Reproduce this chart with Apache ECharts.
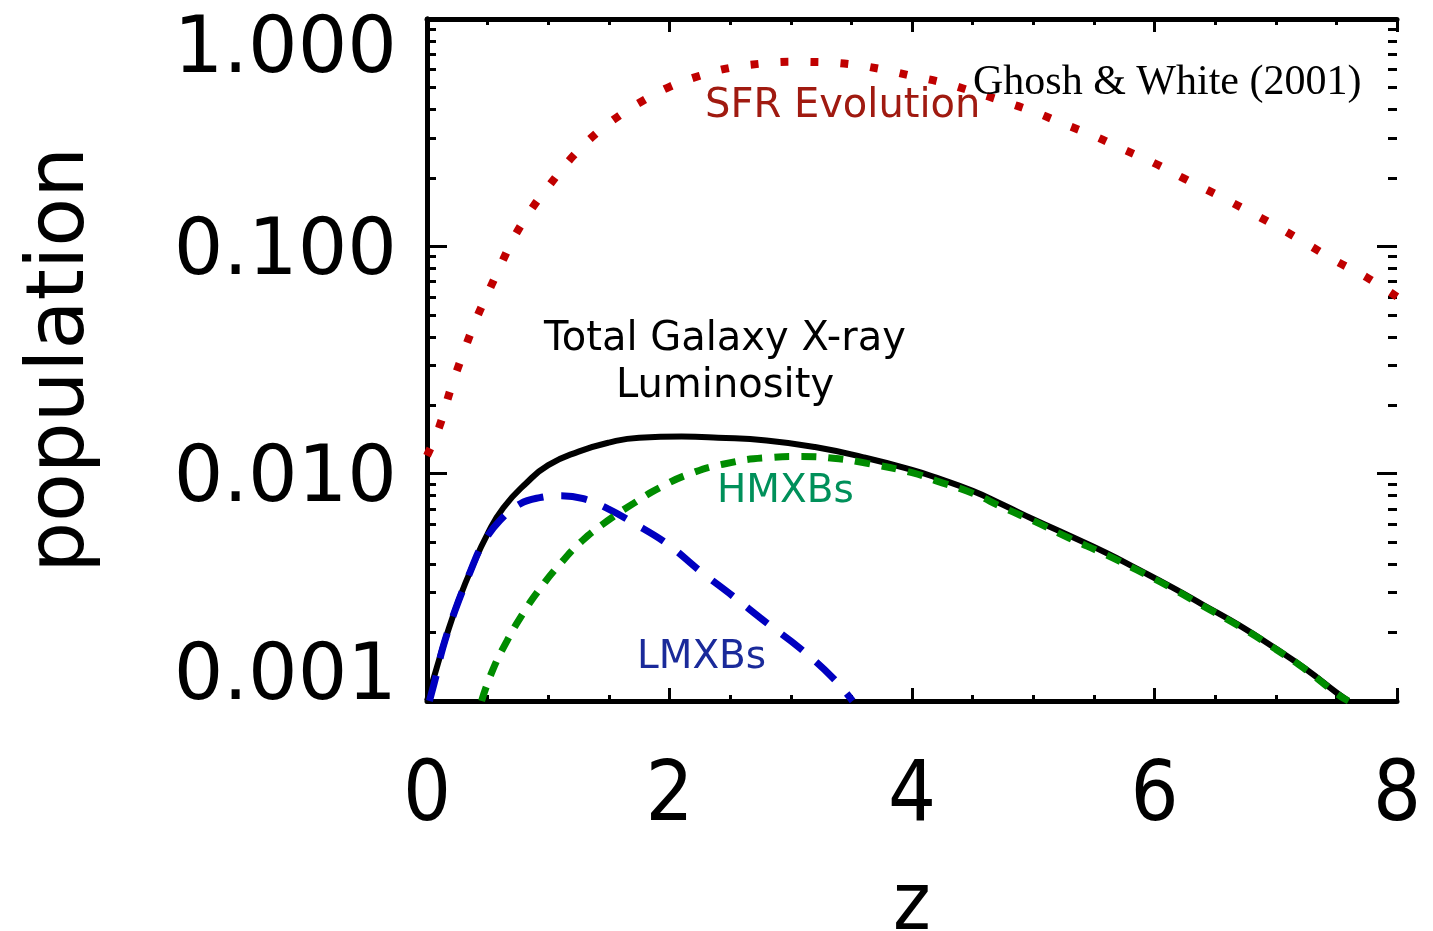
<!DOCTYPE html>
<html>
<head>
<meta charset="utf-8">
<script src="https://cdn.jsdelivr.net/npm/echarts@6/dist/echarts.min.js"></script>
<style>
html,body{margin:0;padding:0;background:#fff;}
#chart{width:1433px;height:931px;}
</style>
</head>
<body>
<div id="chart"></div>
<script>
// ---- data (z, population) ----
const sfr = [[0,0.012],[0.1,0.016],[0.2,0.024],[0.3,0.034],[0.4,0.047],[0.5,0.062],[0.6,0.081],[0.7,0.105],[0.8,0.13],[0.9,0.156],[1.0,0.183],[1.2,0.248],[1.4,0.315],[1.6,0.38],[1.8,0.443],[2.0,0.503],[2.25,0.563],[2.5,0.61],[2.75,0.636],[3.0,0.648],[3.25,0.646],[3.5,0.632],[3.75,0.601],[4.0,0.562],[4.25,0.526],[4.5,0.48],[4.75,0.435],[5.0,0.392],[5.25,0.346],[5.5,0.306],[5.75,0.266],[6.0,0.232],[6.25,0.198],[6.5,0.17],[6.75,0.145],[7.0,0.123],[7.25,0.103],[7.5,0.086],[7.75,0.073],[8.0,0.06]];
const total = [[0.0,0.001],[0.08,0.0014],[0.165,0.00197],[0.26,0.00276],[0.37,0.00386],[0.5,0.00544],[0.63,0.00708],[0.82,0.0091],[1.0,0.0109],[1.25,0.0125],[1.5,0.0137],[1.75,0.0144],[2.1,0.01456],[2.4,0.0144],[2.8,0.014],[3.2,0.0131],[3.6,0.0118],[4.0,0.0104],[4.2,0.0096],[4.5,0.0084],[4.75,0.0073],[5.0,0.0063],[5.3,0.00533],[5.6,0.00449],[5.85,0.00383],[6.15,0.00315],[6.4,0.00265],[6.7,0.00215],[7.0,0.0017],[7.25,0.00138],[7.5,0.00109],[7.6,0.001]];
const hmxb = [[0.45,0.001],[0.54,0.00136],[0.66,0.00184],[0.79,0.00242],[0.93,0.00311],[1.1,0.00402],[1.28,0.00507],[1.49,0.00621],[1.7,0.00738],[1.92,0.00868],[2.17,0.01],[2.44,0.011],[2.8,0.01175],[3.08,0.0119],[3.35,0.0117],[3.63,0.0111],[4.0,0.0101],[4.2,0.0093],[4.5,0.0082],[4.75,0.0071],[5.0,0.0062],[5.3,0.0052],[5.6,0.0044],[5.85,0.00378],[6.15,0.00312],[6.4,0.00262],[6.7,0.00213],[7.0,0.00169],[7.25,0.00137],[7.5,0.00108],[7.6,0.001]];
const lmxb = [[0.02,0.001],[0.07,0.00126],[0.13,0.00171],[0.23,0.00249],[0.36,0.00374],[0.46,0.00492],[0.6,0.00621],[0.77,0.00738],[0.93,0.00784],[1.1,0.008],[1.29,0.00776],[1.49,0.00702],[1.7,0.00608],[1.98,0.00492],[2.25,0.00374],[2.52,0.0029],[2.8,0.00221],[3.08,0.0017],[3.35,0.00126],[3.51,0.001]];
const yMajorTicks = [0.001, 0.01, 0.1, 1];
const yMinorTicks = [0.002,0.003,0.004,0.005,0.006,0.007,0.008,0.009,0.02,0.03,0.04,0.05,0.06,0.07,0.08,0.09,0.2,0.3,0.4,0.5,0.6,0.7,0.8,0.9];
const xTicks = [0, 2, 4, 6, 8];

const chart = echarts.init(document.getElementById('chart'), null, {renderer:'canvas'});
const axLine = {show:true, lineStyle:{color:'#000', width:5}};
const narrow = '"Liberation Sans Narrow","DejaVu Sans Condensed","Liberation Sans",sans-serif';
const yFont = {fontSize:78, fontFamily:'"DejaVu Sans",sans-serif', color:'#000'};
const yBase = {type:'log', logBase:10, min:0.001, max:1, splitLine:{show:false}};
function tickAxis(pos, vals, len){
  return Object.assign({}, yBase, {position:pos, offset:0, axisLine:{show:false},
    axisTick:{show:true, inside:true, length:len, lineStyle:{width:3,color:'#000'}, customValues:vals},
    axisLabel:{show:false}});
}
const option = {
  animation:false,
  backgroundColor:'#fff',
  grid:{left:427, right:36, top:19, bottom:230, containLabel:false, outerBoundsMode:'none'},
  xAxis:[
    {type:'value', min:0, max:8, interval:2, position:'bottom',
     name:'z', nameLocation:'middle', nameGap:167, nameMoveOverlap:false,
     nameTextStyle:{fontSize:80, fontFamily:narrow, color:'#000'},
     axisLine:axLine, splitLine:{show:false},
     axisTick:{inside:true, length:13, lineStyle:{width:3,color:'#000'}},
     minorTick:{show:true, splitNumber:4, length:6, lineStyle:{width:3,color:'#000'}},
     axisLabel:{fontSize:84, fontFamily:narrow, color:'#000', margin:55,
       customValues:xTicks}},
    {type:'value', min:0, max:8, interval:2, position:'top',
     axisLine:axLine, splitLine:{show:false},
     axisTick:{inside:true, length:13, lineStyle:{width:3,color:'#000'}},
     minorTick:{show:true, splitNumber:4, length:6, lineStyle:{width:3,color:'#000'}},
     axisLabel:{show:false}}
  ],
  yAxis:[
    Object.assign({}, yBase, {position:'left', offset:0,
      name:'population', nameLocation:'middle', nameGap:325, nameRotate:90, nameMoveOverlap:false,
      nameTextStyle:{fontSize:80, fontFamily:'"DejaVu Sans",sans-serif', color:'#000'},
      axisLine:axLine,
      axisTick:{show:false},
      axisLabel:Object.assign({}, yFont, {margin:30, customValues:yMajorTicks,
        formatter:function(v){
          const s = Number(v).toFixed(3);
          if (v > 0.5) return '{t|' + s + '}';
          if (v < 0.002) return '{b|' + s + '}';
          return '{m|' + s + '}';
        },
        rich:{
          t:Object.assign({}, yFont, {padding:[66,0,0,0]}),
          m:Object.assign({}, yFont, {padding:[14,0,0,0]}),
          b:Object.assign({}, yFont, {padding:[0,0,44,0]})
        }})}),
    Object.assign({}, yBase, {position:'right', offset:0, axisLine:axLine,
      axisTick:{show:false}, axisLabel:{show:false}}),
    tickAxis('left', yMajorTicks, 20),
    tickAxis('right', yMajorTicks, 20),
    tickAxis('left', yMinorTicks, 9),
    tickAxis('right', yMinorTicks, 9)
  ],
  series:[
    {type:'line', name:'SFR Evolution', data:sfr, smooth:0.4, showSymbol:false, clip:true, z:3,
     lineStyle:{color:'#c00000', width:8, type:[8,22], cap:'butt'}},
    {type:'line', name:'Total', data:total, smooth:0.5, showSymbol:false, clip:true, z:2,
     lineStyle:{color:'#000', width:6}},
    {type:'line', name:'LMXBs', data:lmxb, smooth:0.4, showSymbol:false, clip:true, z:3,
     lineStyle:{color:'#0000c0', width:7, type:[26,18], cap:'butt'}},
    {type:'line', name:'HMXBs', data:hmxb, smooth:0.5, showSymbol:false, clip:true, z:4,
     lineStyle:{color:'#008c00', width:7, type:[15,12], cap:'butt'}}
  ],
  graphic:[
    {type:'text', z:10, style:{text:'SFR Evolution', x:705, y:107, align:'left', verticalAlign:'middle',
      font:'40px "DejaVu Sans", sans-serif', fill:'#a01a10'}},
    {type:'text', z:10, style:{text:'Ghosh & White (2001)', x:973, y:83, align:'left', verticalAlign:'middle',
      font:'42px "Liberation Serif", serif', fill:'#000'}},
    {type:'text', z:10, style:{text:'Total Galaxy X-ray', x:725, y:340, align:'center', verticalAlign:'middle',
      font:'40px "DejaVu Sans", sans-serif', fill:'#000'}},
    {type:'text', z:10, style:{text:'Luminosity', x:725, y:387, align:'center', verticalAlign:'middle',
      font:'40px "DejaVu Sans", sans-serif', fill:'#000'}},
    {type:'text', z:10, style:{text:'HMXBs', x:717, y:492, align:'left', verticalAlign:'middle',
      font:'39px "DejaVu Sans", sans-serif', fill:'#00905a'}},
    {type:'text', z:10, style:{text:'LMXBs', x:637, y:658, align:'left', verticalAlign:'middle',
      font:'39px "DejaVu Sans", sans-serif', fill:'#1a2a9a'}}
  ]
};
chart.setOption(option);
</script>
</body>
</html>
